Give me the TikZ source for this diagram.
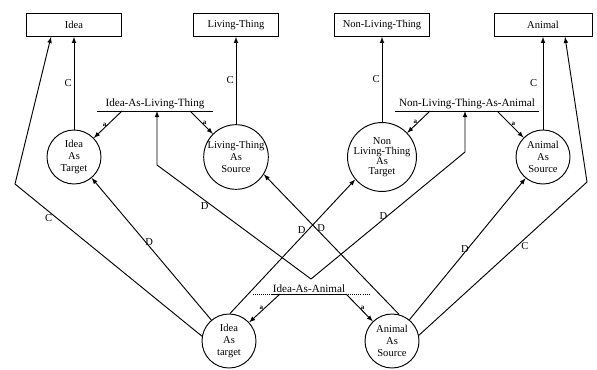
\documentclass[tikz,border=0pt]{standalone}
\usepackage{fontspec}
\setmainfont{Liberation Serif}
\usetikzlibrary{arrows}

\begin{document}
\begin{tikzpicture}[x=0.03cm,y=-0.03cm,node distance=3.96cm,thick,
    concept/.style={rectangle,draw,thin,minimum height=0.7cm,font=\fontsize{9}{10}\selectfont},
    role/.style={circle,draw,minimum size=1.62cm,inner sep=0pt,align=center,
                 font=\fontsize{9}{10}\selectfont},
    rel/.style={inner xsep=7pt,inner ysep=1pt,anchor=south,font=\fontsize{9.5}{10}\selectfont},
    conn/.style={-latex},
    lab/.style={font=\fontsize{9}{10}\selectfont,inner sep=1.5pt},
    tag/.style={font=\fontsize{6}{6}\selectfont\bfseries,inner sep=0.8pt}]

  \useasboundingbox (0,0) rectangle (597,370);

  % role nodes
  \node[role] (ideaT) at (74,157) {Idea\\As\\Target};
  \node[role] (ltS) at (236,157) {Living-Thing\\As\\Source};
  \node[role,font=\fontsize{9}{8.5}\selectfont] (nltT) at (382,157) {Non\\Living-Thing\\As\\Target};
  \node[role] (animalS) at (543,157) {Animal\\As\\Source};
  \node[role] (ideaT2) at (229,341) {Idea\\As\\target};
  \node[role] (animalS2) at (392,341) {Animal\\As\\Source};

  % concepts
  \node[concept,minimum width=2.85cm] (idea) [above of=ideaT] {Idea};
  \node[concept,minimum width=2.55cm] (lt) [above of=ltS] {Living-Thing};
  \node[concept,minimum width=2.85cm] (nlt) [above of=nltT] {Non-Living-Thing};
  \node[concept,minimum width=2.94cm] (animal) [above of=animalS] {Animal};

  % metaphors
  \node[rel] (ialt) at (155,111) {Idea-As-Living-Thing};
  \node[rel,inner xsep=3pt] (nltaa) at (467,111) {Non-Living-Thing-As-Animal};
  \node[rel,inner xsep=0pt] (iaa) at (309,294) {Idea-As-Animal};
  \draw (ialt.south west) -- (ialt.south east);
  \draw (nltaa.south west) -- (nltaa.south east);
  \draw (iaa.south west) -- (iaa.south east);
  \draw[densely dotted] (iaa.south west) -- ++(-19,0);
  \draw[densely dotted] (iaa.south east) -- ++(25,0);

  \coordinate (ialt-a) at (122,111);
  \coordinate (ialt-b) at (190,111);
  \coordinate (ialt-in) at (157,111);
  \coordinate (nltaa-a) at (430,111);
  \coordinate (nltaa-b) at (497,111);
  \coordinate (nltaa-in) at (465,111);
  \coordinate (iaa-a) at (280,294);
  \coordinate (iaa-b) at (346,294);
  \coordinate (iaa-top) at (311,279);
  \coordinate (bendL) at (157,165);
  \coordinate (bendR) at (465,152);
  \coordinate (bendC1) at (15,184);
  \coordinate (bendC2) at (587,182);

  \path[conn]
    (ialt-a) edge node[tag,left] {a} (ideaT)
    (ialt-b) edge node[tag,right] {a} (ltS)
    (nltaa-a) edge node[tag,left] {a} (nltT)
    (nltaa-b) edge node[tag,right] {a} (animalS)
    (iaa-a) edge node[tag,left] {a} (ideaT2)
    (iaa-b) edge node[tag,right] {a} (animalS2)
    (ideaT) edge node[lab,left] {C} (ideaT |- idea.south)
    (ltS) edge node[lab,left] {C} (ltS |- lt.south)
    (nltT) edge node[lab,left] {C} (nltT |- nlt.south)
    (animalS) edge node[lab,left=3pt] {C} (animalS |- animal.south)
    (ideaT2) edge node[lab,pos=0.55,right=-2pt] {D} (ideaT)
    (ideaT2.88) edge node[lab,pos=0.62,left] {D} (nltT.220)
    (animalS2.75) edge node[lab,pos=0.62,right] {D} (ltS.328)
    (animalS2) edge node[lab,pos=0.5,left=-3pt] {D} (animalS);

  \draw[conn] (ideaT2.170) -- node[lab,pos=0.82,below=1pt] {C} (bendC1)
    -- ([xshift=-0.69cm]idea.south);
  \draw[conn] (animalS2.12) -- node[lab,pos=0.63,below=1pt] {C} (bendC2)
    -- ([xshift=0.66cm]animal.south);
  \draw[conn] (iaa-top) -- node[lab,pos=0.69,below] {D} (bendL) -- (ialt-in);
  \draw[conn] (iaa-top) -- node[lab,pos=0.47,above=-2pt] {D} (bendR) -- (nltaa-in);
\end{tikzpicture}
\end{document}
